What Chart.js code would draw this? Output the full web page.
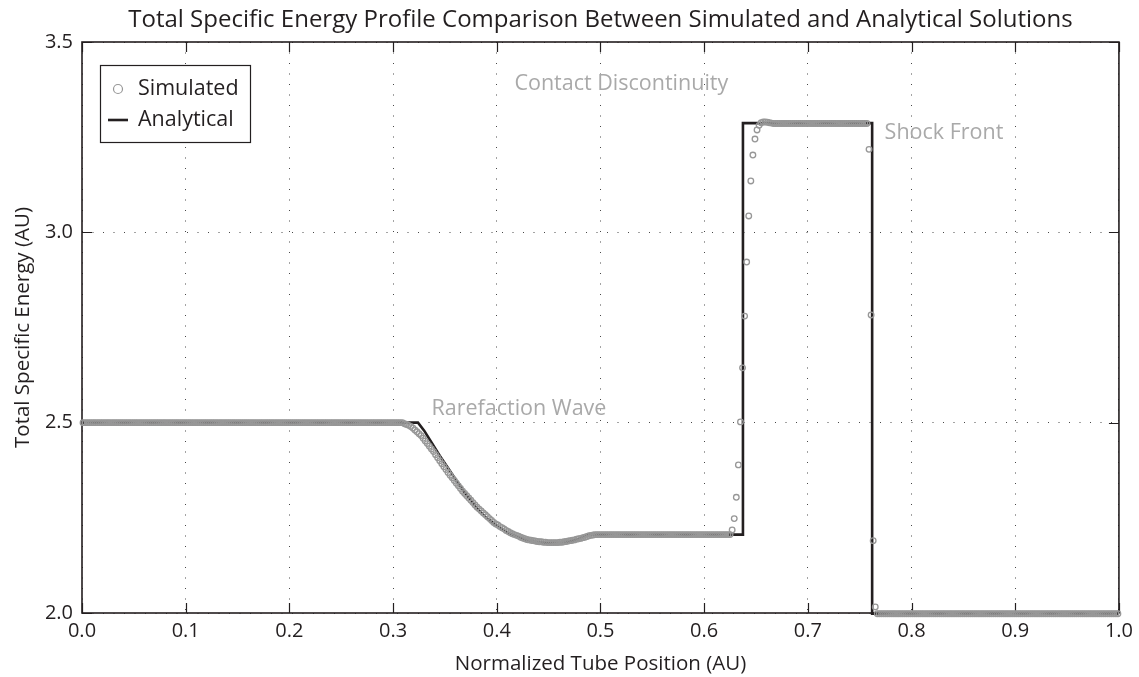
<!DOCTYPE html>
<html>
<head>
<meta charset="utf-8">
<script src="https://cdn.jsdelivr.net/npm/chart.js@4.4.1/dist/chart.umd.min.js"></script>
<style>
  html, body { margin: 0; padding: 0; background: #ffffff; }
  canvas { display: block; }
</style>
</head>
<body>
<canvas id="energyChart" width="1139" height="677"></canvas>
<script>
// ---- Simulated solution: one value per cell, mesh of 500 cells on [0, 1] ----
const CELL_COUNT = 500;
const cellCentres = Array.from({ length: CELL_COUNT }, (_, i) => (i + 0.5) / CELL_COUNT);

// undisturbed left state, x = 0.001 .. 0.309
const simLeftState = [
  2.5, 2.5, 2.5, 2.5, 2.5, 2.5, 2.5, 2.5, 2.5, 2.5, 2.5, 2.5, 2.5, 2.5, 2.5, 2.5, 2.5, 2.5, 2.5, 2.5,
  2.5, 2.5, 2.5, 2.5, 2.5, 2.5, 2.5, 2.5, 2.5, 2.5, 2.5, 2.5, 2.5, 2.5, 2.5, 2.5, 2.5, 2.5, 2.5, 2.5,
  2.5, 2.5, 2.5, 2.5, 2.5, 2.5, 2.5, 2.5, 2.5, 2.5, 2.5, 2.5, 2.5, 2.5, 2.5, 2.5, 2.5, 2.5, 2.5, 2.5,
  2.5, 2.5, 2.5, 2.5, 2.5, 2.5, 2.5, 2.5, 2.5, 2.5, 2.5, 2.5, 2.5, 2.5, 2.5, 2.5, 2.5, 2.5, 2.5, 2.5,
  2.5, 2.5, 2.5, 2.5, 2.5, 2.5, 2.5, 2.5, 2.5, 2.5, 2.5, 2.5, 2.5, 2.5, 2.5, 2.5, 2.5, 2.5, 2.5, 2.5,
  2.5, 2.5, 2.5, 2.5, 2.5, 2.5, 2.5, 2.5, 2.5, 2.5, 2.5, 2.5, 2.5, 2.5, 2.5, 2.5, 2.5, 2.5, 2.5, 2.5,
  2.5, 2.5, 2.5, 2.5, 2.5, 2.5, 2.5, 2.5, 2.5, 2.5, 2.5, 2.5, 2.5, 2.5, 2.5, 2.5, 2.5, 2.5, 2.5, 2.5,
  2.5, 2.5, 2.5, 2.5, 2.5, 2.5, 2.5, 2.5, 2.5, 2.5, 2.5, 2.5, 2.5, 2.5, 2.5
];

// rarefaction fan, x = 0.311 .. 0.499
const simRarefaction = [
  2.497, 2.495, 2.493, 2.490, 2.486, 2.481, 2.476, 2.471, 2.466, 2.459,
  2.452, 2.445, 2.438, 2.431, 2.424, 2.416, 2.408, 2.400, 2.392, 2.384,
  2.377, 2.369, 2.362, 2.355, 2.348, 2.341, 2.334, 2.327, 2.320, 2.314,
  2.308, 2.302, 2.296, 2.290, 2.284, 2.278, 2.273, 2.268, 2.263, 2.258,
  2.253, 2.248, 2.243, 2.238, 2.234, 2.231, 2.227, 2.224, 2.221, 2.217,
  2.214, 2.211, 2.208, 2.206, 2.204, 2.202, 2.199, 2.197, 2.195, 2.193,
  2.192, 2.191, 2.190, 2.189, 2.188, 2.187, 2.187, 2.186, 2.186, 2.185,
  2.185, 2.185, 2.185, 2.185, 2.185, 2.186, 2.186, 2.187, 2.188, 2.189,
  2.190, 2.191, 2.192, 2.194, 2.195, 2.196, 2.198, 2.199, 2.201, 2.203,
  2.204, 2.205, 2.206, 2.206, 2.206
];

// expanded state behind the fan, x = 0.501 .. 0.625
const simMiddleState = [
  2.206, 2.206, 2.206, 2.206, 2.206, 2.206, 2.206, 2.206, 2.206, 2.206, 2.206, 2.206, 2.206, 2.206, 2.206, 2.206, 2.206, 2.206, 2.206, 2.206,
  2.206, 2.206, 2.206, 2.206, 2.206, 2.206, 2.206, 2.206, 2.206, 2.206, 2.206, 2.206, 2.206, 2.206, 2.206, 2.206, 2.206, 2.206, 2.206, 2.206,
  2.206, 2.206, 2.206, 2.206, 2.206, 2.206, 2.206, 2.206, 2.206, 2.206, 2.206, 2.206, 2.206, 2.206, 2.206, 2.206, 2.206, 2.206, 2.206, 2.206,
  2.206, 2.206, 2.206
];

// smeared contact discontinuity, x = 0.627 .. 0.653
const simContact = [
  2.218, 2.248, 2.304, 2.389, 2.502, 2.644, 2.780, 2.922, 3.043, 3.135, 3.203, 3.245, 3.269, 3.281
];

// shocked plateau, x = 0.655 .. 0.757
const simPlateau = [
  3.288, 3.290, 3.290, 3.289, 3.288, 3.287,
  3.286, 3.286, 3.286, 3.286, 3.286, 3.286, 3.286, 3.286, 3.286, 3.286, 3.286, 3.286, 3.286, 3.286, 3.286, 3.286, 3.286,
  3.286, 3.286, 3.286, 3.286, 3.286, 3.286, 3.286, 3.286, 3.286, 3.286, 3.286, 3.286, 3.286, 3.286, 3.286, 3.286, 3.286,
  3.286, 3.286, 3.286, 3.286, 3.286, 3.286, 3.286, 3.286, 3.286, 3.286, 3.286, 3.286
];

// shock front, x = 0.759 .. 0.765
const simShock = [3.218, 2.783, 2.190, 2.016];

// undisturbed right state, x = 0.767 .. 0.999
const simRightState = [
  1.998, 1.998, 1.998, 1.998, 1.998, 1.998, 1.998, 1.998, 1.998, 1.998, 1.998, 1.998, 1.998, 1.998, 1.998, 1.998, 1.998, 1.998, 1.998, 1.998,
  1.998, 1.998, 1.998, 1.998, 1.998, 1.998, 1.998, 1.998, 1.998, 1.998, 1.998, 1.998, 1.998, 1.998, 1.998, 1.998, 1.998, 1.998, 1.998, 1.998,
  1.998, 1.998, 1.998, 1.998, 1.998, 1.998, 1.998, 1.998, 1.998, 1.998, 1.998, 1.998, 1.998, 1.998, 1.998, 1.998, 1.998, 1.998, 1.998, 1.998,
  1.998, 1.998, 1.998, 1.998, 1.998, 1.998, 1.998, 1.998, 1.998, 1.998, 1.998, 1.998, 1.998, 1.998, 1.998, 1.998, 1.998, 1.998, 1.998, 1.998,
  1.998, 1.998, 1.998, 1.998, 1.998, 1.998, 1.998, 1.998, 1.998, 1.998, 1.998, 1.998, 1.998, 1.998, 1.998, 1.998, 1.998, 1.998, 1.998, 1.998,
  1.998, 1.998, 1.998, 1.998, 1.998, 1.998, 1.998, 1.998, 1.998, 1.998, 1.998, 1.998, 1.998, 1.998, 1.998, 1.998, 1.998
];

const simulatedEnergy = [].concat(
  simLeftState, simRarefaction, simMiddleState, simContact, simPlateau, simShock, simRightState
);

// ---- Analytical (exact Riemann) solution ----
const analyticalX = [
  0.0, 0.324, 0.330, 0.3375, 0.345, 0.352, 0.360, 0.370, 0.380, 0.390, 0.400, 0.410,
  0.420, 0.430, 0.440, 0.450, 0.460, 0.470, 0.480, 0.488, 0.6374, 0.6374, 0.762, 0.762, 1.0
];
const analyticalEnergy = [
  2.5, 2.5, 2.479, 2.446, 2.413, 2.385, 2.352, 2.313, 2.278, 2.250, 2.229, 2.212,
  2.200, 2.191, 2.186, 2.184, 2.185, 2.188, 2.195, 2.206, 2.206, 3.287, 3.287, 1.998, 1.998
];

const seriesNames = ['Simulated', 'Analytical'];
const featureLabels = ['Rarefaction Wave', 'Contact Discontinuity', 'Shock Front'];

const FONT = '"Open Sans", "Noto Sans", sans-serif';
const INK = '#231f20';
const SIM_GREY = '#979797';
const NOTE_GREY = '#a9a9a9';
const TICK_LEN = 10;

// axes frame with inward tick marks on all four sides
const axesFrame = {
  id: 'axesFrame',
  beforeDatasetsDraw(chart) {
    const { ctx, chartArea: a, scales: { x, y } } = chart;
    ctx.save();
    ctx.strokeStyle = INK;
    ctx.lineWidth = 1.2;
    ctx.beginPath();
    x.ticks.forEach(t => {
      const px = Math.round(x.getPixelForValue(t.value)) + 0.5;
      ctx.moveTo(px, a.bottom); ctx.lineTo(px, a.bottom - TICK_LEN);
      ctx.moveTo(px, a.top); ctx.lineTo(px, a.top + TICK_LEN);
    });
    y.ticks.forEach(t => {
      const py = Math.round(y.getPixelForValue(t.value)) + 0.5;
      ctx.moveTo(a.left, py); ctx.lineTo(a.left + TICK_LEN, py);
      ctx.moveTo(a.right, py); ctx.lineTo(a.right - TICK_LEN, py);
    });
    ctx.stroke();
    ctx.lineWidth = 1.6;
    ctx.strokeRect(a.left, a.top, a.right - a.left, a.bottom - a.top);
    ctx.restore();
  }
};

// grey notes naming the wave features, anchored in data coordinates
const featureNotes = {
  id: 'featureNotes',
  afterDatasetsDraw(chart, args, opts) {
    const { ctx, scales: { x, y } } = chart;
    ctx.save();
    ctx.font = opts.font;
    ctx.fillStyle = opts.color;
    ctx.textAlign = 'left';
    ctx.textBaseline = 'middle';
    opts.items.forEach(it => {
      ctx.fillText(it.text, x.getPixelForValue(it.x), y.getPixelForValue(it.y));
    });
    ctx.restore();
  }
};

// boxed legend inside the upper-left corner of the axes
const boxedLegend = {
  id: 'boxedLegend',
  afterDraw(chart, args, opts) {
    const { ctx, chartArea: a } = chart;
    const left = a.left + opts.offsetX, top = a.top + opts.offsetY;
    ctx.save();
    ctx.fillStyle = '#ffffff';
    ctx.fillRect(left, top, opts.width, opts.height);
    ctx.strokeStyle = INK;
    ctx.lineWidth = 1.2;
    ctx.strokeRect(left + 0.5, top + 0.5, opts.width, opts.height);
    ctx.font = opts.font;
    ctx.fillStyle = INK;
    ctx.textBaseline = 'middle';
    chart.data.datasets.forEach((ds, i) => {
      const cy = top + opts.firstRow + i * opts.rowGap;
      const mx = left + opts.markerX;
      ctx.strokeStyle = ds.borderColor;
      if (ds.showLine === false) {
        ctx.lineWidth = 1.2;
        ctx.beginPath();
        ctx.arc(mx, cy, 4.5, 0, Math.PI * 2);
        ctx.stroke();
      } else {
        ctx.lineWidth = ds.borderWidth;
        ctx.beginPath();
        ctx.moveTo(mx - 10, cy); ctx.lineTo(mx + 10, cy);
        ctx.stroke();
      }
      ctx.fillText(ds.label, left + opts.textX, cy);
    });
    ctx.restore();
  }
};

const ctx = document.getElementById('energyChart').getContext('2d');
new Chart(ctx, {
  type: 'scatter',
  data: {
    datasets: [
      {
        label: seriesNames[0],
        data: cellCentres.map((x, i) => ({ x, y: simulatedEnergy[i] })),
        showLine: false,
        pointStyle: 'circle',
        pointRadius: 2.8,
        pointBorderWidth: 1.3,
        borderColor: SIM_GREY,
        backgroundColor: 'rgba(0,0,0,0)',
        pointBackgroundColor: 'rgba(0,0,0,0)',
        clip: false
      },
      {
        label: seriesNames[1],
        data: analyticalX.map((x, i) => ({ x, y: analyticalEnergy[i] })),
        showLine: true,
        borderColor: INK,
        borderWidth: 2.6,
        pointRadius: 0,
        tension: 0,
        clip: false
      }
    ]
  },
  options: {
    responsive: false,
    animation: false,
    events: [],
    layout: { padding: { left: 0, right: 16, top: 0, bottom: 0 } },
    plugins: {
      legend: { display: false },
      tooltip: { enabled: false },
      title: {
        display: true,
        fullSize: false,
        text: 'Total Specific Energy Profile Comparison Between Simulated and Analytical Solutions',
        color: INK,
        font: { family: FONT, size: 24, weight: 'normal', lineHeight: 1.2 },
        padding: { top: 5.6, bottom: 7.6 }
      },
      featureNotes: {
        font: '21.5px ' + FONT,
        color: NOTE_GREY,
        items: [
          { text: featureLabels[0], x: 0.337, y: 2.536 },
          { text: featureLabels[1], x: 0.417, y: 3.39 },
          { text: featureLabels[2], x: 0.774, y: 3.261 }
        ]
      },
      boxedLegend: {
        offsetX: 18, offsetY: 23, width: 150, height: 77,
        markerX: 18, textX: 38, firstRow: 24, rowGap: 31,
        font: '21.5px ' + FONT
      }
    },
    scales: {
      x: {
        type: 'linear',
        min: 0, max: 1,
        afterFit: s => { s.height = 64; },
        ticks: {
          stepSize: 0.1,
          padding: 6,
          color: INK,
          font: { family: FONT, size: 20 },
          callback: v => Number(v).toFixed(1)
        },
        grid: { color: 'rgba(40,40,40,0.85)', lineWidth: 1, drawTicks: false },
        border: { display: false, dash: [1, 9.5] },
        title: {
          display: true,
          text: 'Normalized Tube Position (AU)',
          color: INK,
          font: { family: FONT, size: 20.5 },
          padding: { top: 0, bottom: 1 }
        }
      },
      y: {
        type: 'linear',
        min: 2, max: 3.5,
        afterFit: s => { s.width = 82; },
        ticks: {
          stepSize: 0.5,
          padding: 9,
          color: INK,
          font: { family: FONT, size: 20 },
          callback: v => Number(v).toFixed(1)
        },
        grid: { color: 'rgba(40,40,40,0.85)', lineWidth: 1, drawTicks: false },
        border: { display: false, dash: [1, 9.5] },
        title: {
          display: true,
          text: 'Total Specific Energy (AU)',
          color: INK,
          font: { family: FONT, size: 20.5 },
          padding: { top: 11, bottom: 0 }
        }
      }
    }
  },
  plugins: [axesFrame, featureNotes, boxedLegend]
});
</script>
</body>
</html>
